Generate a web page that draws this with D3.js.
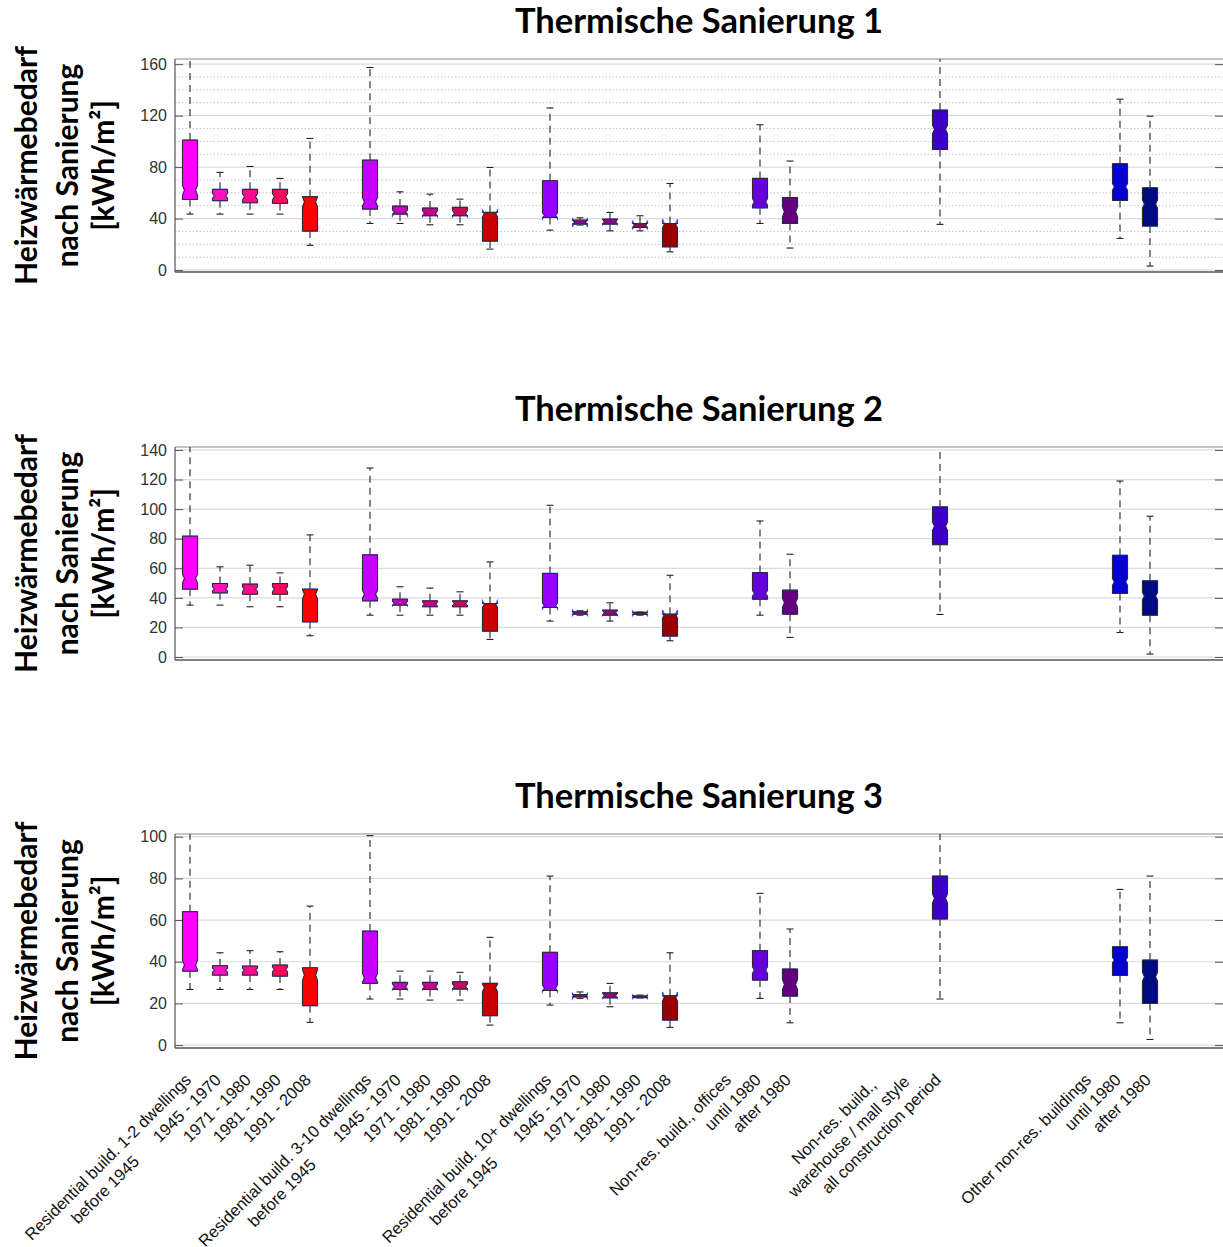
<!DOCTYPE html>
<html><head><meta charset="utf-8">
<script src="https://cdn.jsdelivr.net/npm/d3@7"></script>
<style>body{margin:0;background:#fff}svg{display:block}</style>
</head><body><svg id="c" width="1223" height="1247"></svg>
<script>
// ---------- DATA ----------
const categories = [
 "Residential build. 1-2 dwellings\nbefore 1945","1945 - 1970","1971 - 1980","1981 - 1990","1991 - 2008","",
 "Residential build. 3-10 dwellings\nbefore 1945","1945 - 1970","1971 - 1980","1981 - 1990","1991 - 2008","",
 "Residential build. 10+ dwellings\nbefore 1945","1945 - 1970","1971 - 1980","1981 - 1990","1991 - 2008","",
 "Non-res. build., offices","until 1980","after 1980","","","","",
 "Non-res. build.,\nwarehouse / mall style\nall construction period","","","","",
 "Other non-res. buildings","until 1980","after 1980","",""];
const boxSlots = [0,1,2,3,4,6,7,8,9,10,12,13,14,15,16,19,20,25,31,32];
const sampleSize = [330,48,43,45,110,330,15,15,15,180,300,2,9,2,65,190,65,190,300,210];
const boxColors = ["#FF00FF","#FF10C0","#FF0A8C","#F80A5A","#FF0000","#C800FF","#C000B4","#C8008C","#C80A5A","#C80000",
 "#9600FF","#8C00A0","#8C0A78","#8C0A50","#960000","#6400DC","#640080","#3C00C8","#0000D2","#000A82"];

const titles = ["Thermische Sanierung 1","Thermische Sanierung 2","Thermische Sanierung 3"];
const yLabelLines = ["Heizwärmebedarf","nach Sanierung","[kWh/m²]"];
const yTicks1 = [0,40,80,120,160];
const yMinor1 = [10,20,30,50,60,70,90,100,110,130,140,150];
const yTicks2 = [0,20,40,60,80,100,120,140];
const yTicks3 = [0,20,40,60,80,100];

// Panel 1
const lo1  = [43.5,43.5,43.5,43.5,19.2,36.2,36.2,35.2,35.2,16.3,31.0,35.0,30.5,30.5,14.2,36.2,17.1,35.5,24.6,3.1];
const q1_1 = [54.9,53.9,52.3,51.8,30.3,47.4,43.5,42.2,42.2,22.5,40.9,35.7,35.7,33.1,18.1,48.4,36.2,93.7,54.1,34.2];
const med1 = [62.0,57.7,57.0,57.0,53.0,53.0,44.5,44.0,44.0,44.0,42.2,37.0,37.5,35.0,36.0,53.0,45.3,109.3,64.7,51.3];
const q3_1 = [101.0,62.7,62.7,62.7,57.0,85.4,49.7,48.2,48.7,44.8,69.4,38.8,39.6,36.2,36.2,71.2,56.4,124.3,82.6,63.9];
const hi1  = [170,75.9,80.5,71.2,102.3,157.4,60.8,59.0,55.1,79.7,126.0,40.6,44.8,42.2,67.3,112.9,84.7,170,132.8,119.6];
// Panel 2
const lo2  = [35.1,35.1,34.0,34.0,14.4,28.3,28.3,28.3,28.3,11.9,24.3,28.3,24.3,28.3,11.0,28.3,13.3,28.8,16.6,2.0];
const q1_2 = [45.9,43.4,42.5,42.5,23.8,38.0,35.1,34.0,34.0,17.5,33.5,29.0,28.3,28.8,14.2,39.1,29.0,76.0,43.0,28.3];
const med2 = [53.1,46.1,45.9,45.9,42.5,42.5,36.2,35.8,36.2,35.8,34.6,29.9,29.9,29.5,29.0,43.0,36.7,88.4,50.8,41.2];
const q3_2 = [81.7,49.7,49.3,49.7,45.9,69.1,39.1,38.0,38.0,36.2,56.5,30.6,31.7,30.2,29.0,57.1,45.2,101.5,68.8,51.5];
const hi2  = [150,61.0,62.1,56.9,82.6,127.8,47.5,46.6,44.1,64.3,102.6,31.3,36.7,30.5,55.3,92.0,69.5,150,119.0,95.2];
// Panel 3
const lo3  = [26.7,26.7,26.7,26.7,10.9,22.1,22.1,21.6,21.6,9.6,19.2,22.4,18.4,22.6,8.5,22.4,10.7,22.1,10.7,2.7];
const q1_3 = [35.5,33.6,33.6,33.1,18.9,29.6,26.7,26.7,26.9,14.1,26.2,23.1,22.7,22.8,12.0,31.2,23.5,60.5,33.4,20.0];
const med3 = [38.4,36.0,36.0,36.3,33.6,32.3,28.0,28.0,28.0,27.5,27.2,23.5,23.7,23.2,23.2,36.0,29.1,70.4,40.8,32.8];
const q3_3 = [64.0,38.1,37.9,38.4,37.1,54.7,30.1,30.1,30.4,29.6,44.5,24.2,25.1,23.6,23.7,45.3,36.5,81.1,47.2,40.8];
const hi3  = [110,44.3,45.3,44.8,66.7,100.5,35.5,35.5,34.9,51.7,81.1,25.5,29.6,24.0,44.3,72.8,55.7,110,74.7,81.1];

// ---------- LAYOUT ----------
const svg = d3.select("#c");
const L = 175, R = 1225;
const panels = [
 {top:59,  bottom:272,  dom:[-1.5,164],  ticks:yTicks1, minor:yMinor1, d:[lo1,q1_1,med1,q3_1,hi1]},
 {top:447, bottom:660,  dom:[-2,142],    ticks:yTicks2, minor:[],      d:[lo2,q1_2,med2,q3_2,hi2]},
 {top:834, bottom:1048, dom:[-1.4,101.3],ticks:yTicks3, minor:[],      d:[lo3,q1_3,med3,q3_3,hi3]}
];
const x = d3.scaleBand().domain(d3.range(categories.length)).range([L,R]).padding(0);
const cx = i => x(i) + x.bandwidth()/2;
const labelFont = "'Liberation Sans',Arial,sans-serif";
const titleFont = "Lato, 'Open Sans', sans-serif";

panels.forEach((P, pi) => {
  const y = d3.scaleLinear().domain(P.dom).range([P.bottom, P.top]);
  const g = svg.append("g");
  const clipId = "clip"+pi;
  svg.append("clipPath").attr("id",clipId).append("rect")
     .attr("x",L).attr("y",P.top).attr("width",R-L).attr("height",P.bottom-P.top);

  // grid
  g.selectAll(".minor").data(P.minor).join("line")
    .attr("x1",L).attr("x2",R).attr("y1",d=>y(d)).attr("y2",d=>y(d))
    .attr("stroke","#c4c4c4").attr("stroke-width",1).attr("stroke-dasharray","1.5,2");
  g.selectAll(".major").data(P.ticks).join("line")
    .attr("x1",L).attr("x2",R).attr("y1",d=>y(d)).attr("y2",d=>y(d))
    .attr("stroke","#dcdcdc").attr("stroke-width",1.2);

  // frame
  g.append("line").attr("x1",L).attr("x2",R).attr("y1",P.top).attr("y2",P.top).attr("stroke","#b0b0b0").attr("stroke-width",1.5);
  g.append("line").attr("x1",L).attr("x2",R).attr("y1",P.bottom).attr("y2",P.bottom).attr("stroke","#555").attr("stroke-width",1.5);
  g.append("line").attr("x1",L).attr("x2",L).attr("y1",P.top).attr("y2",P.bottom).attr("stroke","#555").attr("stroke-width",1.2);
  g.append("line").attr("x1",R-1).attr("x2",R-1).attr("y1",P.top).attr("y2",P.bottom).attr("stroke","#b0b0b0").attr("stroke-width",1);

  // axes
  const ax = g.append("g").attr("transform",`translate(${L},0)`)
    .call(d3.axisLeft(y).tickValues(P.ticks).tickSize(-8).tickPadding(8));
  ax.select(".domain").remove();
  ax.selectAll(".tick line").attr("stroke","#555");
  ax.selectAll("text").attr("font-family",labelFont).attr("font-size",16).attr("fill","#333");
  const axr = g.append("g").attr("transform",`translate(${R-1},0)`)
    .call(d3.axisRight(y).tickValues(P.ticks).tickSize(-9).tickFormat(""));
  axr.select(".domain").remove();
  axr.selectAll(".tick line").attr("stroke","#555");

  // boxes
  const bg = g.append("g").attr("clip-path",`url(#${clipId})`);
  const w = 7.5, wi = 5.5, cap = 3.5;
  boxSlots.forEach((slot, j) => {
    const [lo,q1,md,q3,hi] = P.d.map(a => a[j]);
    const X = cx(slot);
    const nh = 1.57*(q3-q1)/Math.sqrt(sampleSize[j]);
    const nlo = md - nh, nhi = md + nh;
    const wl = (a,b) => bg.append("line").attr("x1",X).attr("x2",X).attr("y1",y(a)).attr("y2",y(b))
        .attr("stroke","#222").attr("stroke-width",1.1).attr("stroke-dasharray","7,5");
    wl(q3,hi); wl(q1,lo);
    [lo,hi].forEach(v => bg.append("line").attr("x1",X-cap).attr("x2",X+cap).attr("y1",y(v)).attr("y2",y(v))
        .attr("stroke","#222").attr("stroke-width",1.1));
    const full = [[X-w,q1],[X-w,nlo],[X-wi,md],[X-w,nhi],[X-w,q3],[X+w,q3],[X+w,nhi],[X+wi,md],[X+w,nlo],[X+w,q1]];
    bg.append("path").attr("d", d3.line().x(p=>p[0]).y(p=>y(p[1]))(full)+"Z")
      .attr("fill","none").attr("stroke","#3f55ff").attr("stroke-width",1.2);
    const cl = v => Math.max(q1, Math.min(q3, v));
    const clamped = full.map(p => [p[0], cl(p[1])]);
    bg.append("path").attr("d", d3.line().x(p=>p[0]).y(p=>y(p[1]))(clamped)+"Z")
      .attr("fill",boxColors[j]).attr("stroke","#2a2a2a").attr("stroke-width",1);
  });

  // title
  svg.append("text").attr("x",(L+R)/2 - 1).attr("y",P.top-26).attr("text-anchor","middle")
    .attr("font-family",titleFont).attr("font-weight",700).attr("font-size",34.5)
    .attr("fill","#000").text(titles[pi]);
  // y label
  const yc = (P.top+P.bottom)/2;
  const baseX = [37,78,114];
  yLabelLines.forEach((t,k) => {
    svg.append("text").attr("transform",`translate(${baseX[k]},${yc}) rotate(-90)`)
      .attr("text-anchor","middle").attr("font-family",titleFont)
      .attr("font-weight",700).attr("font-size",30).attr("fill","#000").text(t);
  });
});

// x labels (below the last panel)
const xb = panels[2].bottom;
const lh = 21, lineShift = 25;
categories.forEach((lab, i) => {
  if (!lab) return;
  const lines = lab.split("\n");
  const anchorLine = lines.length > 2 ? lines.length - 1 : 0;
  const lg = svg.append("g").attr("transform",`translate(${cx(i)+2},${xb+33}) rotate(-45)`);
  const ts = lines.map(t => lg.append("text").attr("font-family",labelFont)
      .attr("font-size",16.5).attr("fill","#111").text(t));
  const lens = ts.map(t => t.node().getComputedTextLength());
  const refLen = lens[anchorLine];
  ts.forEach((t,k) => t.attr("text-anchor","middle")
      .attr("x",-refLen/2 - (k === anchorLine ? 0 : lineShift))
      .attr("y",(k-anchorLine)*lh));
});
</script>
</body></html>
